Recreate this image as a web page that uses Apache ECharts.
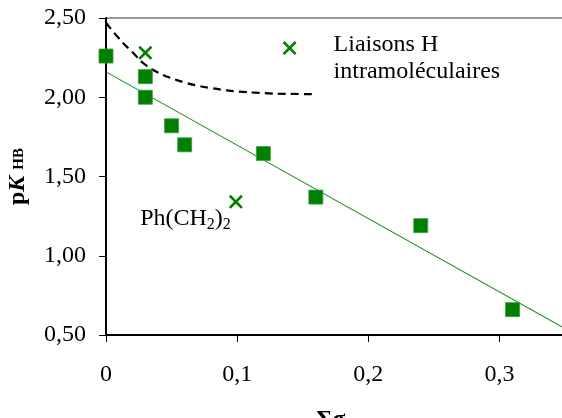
<!DOCTYPE html>
<html><head><meta charset="utf-8">
<script src="https://cdn.jsdelivr.net/npm/echarts@6/dist/echarts.min.js"></script>
<style>html,body{margin:0;padding:0;background:#fff}#c{width:562px;height:418px}</style>
</head><body><div id="c"></div>
<script>
// Data
const squareX = [0, 0.03, 0.03, 0.05, 0.06, 0.12, 0.16, 0.24, 0.31];
const squareY = [2.26, 2.13, 2.00, 1.82, 1.70, 1.645, 1.37, 1.19, 0.66];
const crossX = [0.03, 0.099, 0.14];
const crossY = [2.28, 1.34, 2.31];
const crossText = ['', 'Ph(CH{s|2}){s|2}', 'Liaisons H\nintramoléculaires'];
const fitX = [0, 0.35];
const fitY = [2.16, 0.54];
const curveX = [0, 0.01, 0.02, 0.03, 0.04, 0.05, 0.06, 0.07, 0.08, 0.09, 0.10, 0.12, 0.14, 0.16];
const curveY = [2.47, 2.37, 2.285, 2.205, 2.155, 2.12, 2.093, 2.073, 2.058, 2.046, 2.037, 2.026, 2.021, 2.02];
const xTickValues = [0, 0.1, 0.2, 0.3];
const yTickValues = [0.5, 1.0, 1.5, 2.0, 2.5];

const FONT = '"Liberation Serif", "Times New Roman", serif';
const GREEN = '#008000';
const zip = (a, b) => a.map((v, i) => [v, b[i]]);
const commaFmt = (d) => (v) => v.toFixed(d).replace('.', ',');

const crossPath = 'path://M0,1.6 L1.6,0 L6,4.4 L10.4,0 L12,1.6 L7.6,6 L12,10.4 L10.4,12 L6,7.6 L1.6,12 L0,10.4 L4.4,6 Z';

const crossData = crossX.map((x, i) => {
  const item = { value: [x, crossY[i]] };
  if (crossText[i]) {
    const right = i === 2;
    item.label = {
      show: true,
      position: right ? 'right' : 'left',
      distance: right ? 37 : 0,
      offset: right ? [0, 10] : [2, 17],
      formatter: crossText[i],
      fontFamily: FONT, fontSize: 24, color: '#000', lineHeight: 27,
      align: right ? 'left' : 'right',
      rich: { s: { fontFamily: FONT, fontSize: 16, lineHeight: 12, verticalAlign: 'bottom', color: '#000' } }
    };
  }
  return item;
});

const chart = echarts.init(document.getElementById('c'), null, { renderer: 'canvas' });
chart.setOption({
  animation: false,
  backgroundColor: '#fff',
  grid: { left: 106, top: 18, right: -3, bottom: 83, containLabel: false, outerBoundsMode: 'none',
    show: true, borderColor: '#333', borderWidth: 1, backgroundColor: 'transparent' },
  xAxis: {
    type: 'value', min: 0, max: 0.35, interval: 0.1,
    axisLine: { show: true, onZero: false, lineStyle: { color: '#000', width: 2 } },
    axisTick: { show: true, inside: false, length: 7, lineStyle: { color: '#000', width: 1 },
      customValues: xTickValues },
    axisLabel: { margin: 28, fontFamily: FONT, fontSize: 24, color: '#000',
      customValues: xTickValues, formatter: (v) => v === 0 ? '0' : commaFmt(1)(v) },
    splitLine: { show: false },
    name: '{a|Σσ}{b|F}', nameLocation: 'middle', nameGap: 72,
    nameTextStyle: { rich: {
      a: { fontFamily: FONT, fontSize: 24, fontWeight: 'bold', color: '#000', lineHeight: 26 },
      b: { fontFamily: FONT, fontSize: 15, fontWeight: 'bold', color: '#000', lineHeight: 14, verticalAlign: 'bottom' }
    } }
  },
  yAxis: {
    type: 'value', min: 0.5, max: 2.5, interval: 0.5,
    axisLine: { show: true, onZero: false, lineStyle: { color: '#000', width: 2 } },
    axisTick: { show: true, inside: false, length: 7, lineStyle: { color: '#000', width: 1 } },
    axisLabel: { margin: 20, fontFamily: FONT, fontSize: 24, color: '#000', formatter: commaFmt(2) },
    splitLine: { show: false },
    name: '{a|p}{k|K}{b|HB}', nameLocation: 'middle', nameGap: 75, nameRotate: 90,
    nameTextStyle: { rich: {
      a: { fontFamily: FONT, fontSize: 24, fontWeight: 'bold', color: '#000', lineHeight: 26 },
      k: { fontFamily: FONT, fontSize: 24, fontWeight: 'bold', fontStyle: 'italic', color: '#000', lineHeight: 26 },
      b: { fontFamily: FONT, fontSize: 15, fontWeight: 'bold', color: '#000', lineHeight: 16, verticalAlign: 'middle', padding: [2, 0, 0, 6] }
    } }
  },
  series: [
    { type: 'line', data: zip(fitX, fitY), symbol: 'none', silent: true,
      lineStyle: { color: '#1f8f1f', width: 1.1 }, z: 1 },
    { type: 'line', data: zip(curveX, curveY), symbol: 'none', smooth: true, silent: true,
      lineStyle: { color: '#000', width: 2.2, type: [8, 5] }, z: 1 },
    { type: 'scatter', data: zip(squareX, squareY), symbol: 'rect', symbolSize: 14,
      itemStyle: { color: GREEN, borderColor: '#3a9a3a', borderWidth: 0.8, opacity: 1 }, z: 3 },
    { type: 'scatter', data: crossData, symbol: crossPath, symbolSize: 14,
      itemStyle: { color: GREEN, opacity: 1 }, z: 3 }
  ]
});
</script></body></html>
